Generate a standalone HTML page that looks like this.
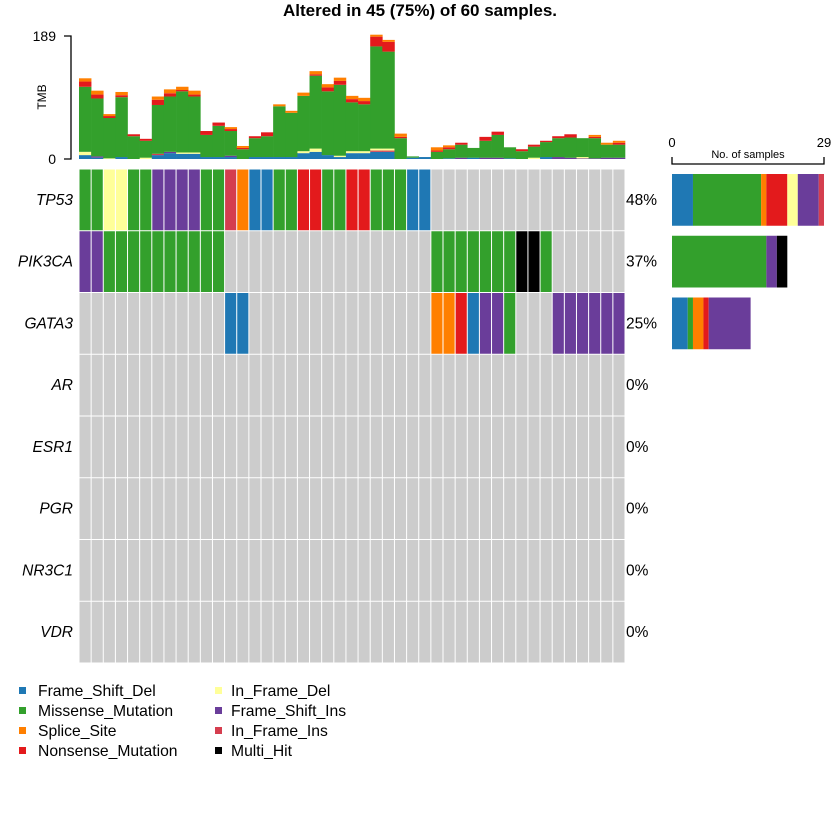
<!DOCTYPE html>
<html><head><meta charset="utf-8"><style>
body{margin:0;background:#fff;width:840px;height:840px;overflow:hidden}
svg{display:block;font-family:"Liberation Sans",Arial,sans-serif}
</style></head><body>
<svg id="chart" width="840" height="840" xmlns="http://www.w3.org/2000/svg">
<text x="420" y="16" text-anchor="middle" font-size="17" font-weight="bold">Altered in 45 (75%) of 60 samples.</text>
<g id="tmb"></g>
<g id="grid"></g>
<g id="side"></g>
<g id="legend"></g>
</svg>
<script>
const genes = ["TP53","PIK3CA","GATA3","AR","ESR1","PGR","NR3C1","VDR"];
const pcts = ["48%","37%","25%","0%","0%","0%","0%","0%"];
// codes: G=Missense, B=Frame_Shift_Del, O=Splice_Site, R=Nonsense, Y=In_Frame_Del, P=Frame_Shift_Ins, K=In_Frame_Ins, M=Multi_Hit, .=none
const rowTP53   = "GGYYGGPPPPGGKOBBGGRRGGRRGGGBB................";
const rowPIK3CA = "PPGGGGGGGGGG.................GGGGGGGMMG......";
const rowGATA3  = "............BB...............OORBPPG...PPPPPP";
const tmbBlue   = [6,2,0,3,0,0,6,9,8,8,3,3,3,0,3,3,3,3,9,11,6,3,9,9,11,11,0,2,3,0,1,0,2,0,0,1,0,0,3,0,0,0,0,0,0];
const tmbPurple = [0,2,0,0,0,0,0,2,0,0,0,0,2,0,0,0,0,0,0,0,0,0,0,0,0,0,0,0,0,0,0,2,0,2,2,0,0,0,0,3,2,1,1,2,2];
const tmbPink   = [0,0,0,0,0,0,2,0,0,0,0,0,0,0,0,0,0,0,0,0,0,0,0,0,2,2,0,0,0,0,0,0,0,0,0,0,0,0,0,0,0,0,0,0,0];
const tmbYellow = [5,0,1,0,0,2,0,0,2,2,0,0,0,0,0,0,0,0,3,5,0,2,3,3,3,3,0,0,0,0,0,0,0,0,0,0,0,2,0,0,0,2,0,0,0];
const tmbGreen  = [100,89,62,92,35,26,75,85,94,86,34,48,38,15,29,32,78,68,85,112,98,109,75,72,157,149,32,2,0,11,14,20,15,26,35,17,12,17,23,29,31,29,31,20,20];
const tmbRed    = [8,6,3,3,3,3,8,5,2,3,6,5,3,2,3,6,0,0,0,2,6,6,5,5,15,15,2,0,0,2,3,3,0,6,5,0,3,3,2,3,5,0,2,0,3];
const tmbOrange = [5,6,3,5,0,0,5,6,5,6,0,0,3,3,0,0,3,3,5,5,5,5,5,5,3,3,5,0,0,5,3,0,0,0,0,0,0,0,0,0,0,0,3,3,3];
const tmbMax = 189;
const sideMax = 29;
const sideTP53 = [["B",4],["G",13],["O",1],["R",4],["Y",2],["P",4],["K",1]];
const sidePIK3CA = [["G",18],["P",2],["M",2]];
const sideGATA3 = [["B",3],["G",1],["O",2],["R",1],["P",8]];
const colors = {G:"#33A02C",B:"#1F78B4",O:"#FF7F00",R:"#E31A1C",Y:"#FFFF99",P:"#6A3D9A",K:"#D53E4F",M:"#000000",".":"#CCCCCC"};
const legendItems = [["B","Frame_Shift_Del"],["G","Missense_Mutation"],["O","Splice_Site"],["R","Nonsense_Mutation"],["Y","In_Frame_Del"],["P","Frame_Shift_Ins"],["K","In_Frame_Ins"],["M","Multi_Hit"]];

const NS="http://www.w3.org/2000/svg";
function mk(tag,attrs,parent){const e=document.createElementNS(NS,tag);for(const k in attrs)e.setAttribute(k,attrs[k]);parent.appendChild(e);return e;}
const gx0=79,gx1=625,gy0=169,gy1=663,nCol=45;
const cw=(gx1-gx0)/nCol, rh=(gy1-gy0)/genes.length;
const xCol=i=>gx0+i*cw;
const yRow=r=>gy0+r*rh;

// grid
const grid=document.getElementById('grid');
const rows=[rowTP53,rowPIK3CA,rowGATA3];
genes.forEach((g,r)=>{
  const row=rows[r]||".".repeat(nCol);
  for(let i=0;i<nCol;i++){
    const c=mk('rect',{x:xCol(i)+0.5,y:yRow(r)+0.5,width:cw-1,height:rh-1,fill:colors[row[i]]},grid);
    
    
  }
  const t=mk('text',{x:73,y:yRow(r)+rh/2+5,'text-anchor':'end','font-size':15.5,'font-style':'italic'},grid);
  t.textContent=g;
  
  
  const p=mk('text',{x:626,y:yRow(r)+rh/2+5,'font-size':15.5},grid);
  p.textContent=pcts[r];
  
  
});

// TMB
const tmb=document.getElementById('tmb');
const ty0=159,ty1=36;
const yT=v=>ty0-(v/tmbMax)*(ty0-ty1);
const stacks=[[tmbBlue,"B"],[tmbPurple,"P"],[tmbPink,"K"],[tmbYellow,"Y"],[tmbGreen,"G"],[tmbRed,"R"],[tmbOrange,"O"]];
for(let i=0;i<nCol;i++){
  let acc=0;
  stacks.forEach(([arr,k])=>{
    const v=arr[i]; if(!v)return;
    const r=mk('rect',{x:xCol(i),y:yT(acc+v),width:cw+0.3,height:yT(acc)-yT(acc+v),fill:colors[k]},tmb);
    
    
    acc+=v;
  });
}
mk('path',{d:`M64 ${ty1}H71V${ty0}H64`,stroke:'#000','stroke-width':1.3,fill:'none'},tmb);
const l1=mk('text',{x:56,y:ty1+5,'text-anchor':'end','font-size':14},tmb);l1.textContent=String(tmbMax);

const l0=mk('text',{x:56,y:ty0+5,'text-anchor':'end','font-size':14},tmb);l0.textContent="0";

const tl=mk('text',{x:46,y:97,'text-anchor':'middle','font-size':12,transform:'rotate(-90 46 97)'},tmb);tl.textContent="TMB";


// side bars
const side=document.getElementById('side');
const sx0=672,sx1=824;
const xS=v=>sx0+v/sideMax*(sx1-sx0);
mk('path',{d:`M${sx0} 157V164H${sx1}V157`,stroke:'#000','stroke-width':1.3,fill:'none'},side);
const s0=mk('text',{x:sx0,y:147,'text-anchor':'middle','font-size':13},side);s0.textContent="0";

const s1=mk('text',{x:sx1,y:147,'text-anchor':'middle','font-size':13},side);s1.textContent=String(sideMax);

const st=mk('text',{x:748,y:158,'text-anchor':'middle','font-size':11},side);st.textContent="No. of samples";

[sideTP53,sidePIK3CA,sideGATA3].forEach((segs,r)=>{
  let acc=0;
  segs.forEach(([k,v])=>{
    const b=mk('rect',{x:xS(acc),y:yRow(r)+5,width:xS(acc+v)-xS(acc),height:rh-10,fill:colors[k]},side);
    
    
    acc+=v;
  });
});

// legend
const lg=document.getElementById('legend');
legendItems.forEach(([k,name],i)=>{
  const col=Math.floor(i/4),row=i%4;
  const x=col?215:19,y=691+row*20;
  const s=mk('rect',{x:x,y:y-4,width:7,height:7,fill:colors[k]},lg);
  
  
  const t=mk('text',{x:col?231:38,y:y+5,'font-size':15.7},lg);t.textContent=name;
  
  
});
</script>
</body></html>
